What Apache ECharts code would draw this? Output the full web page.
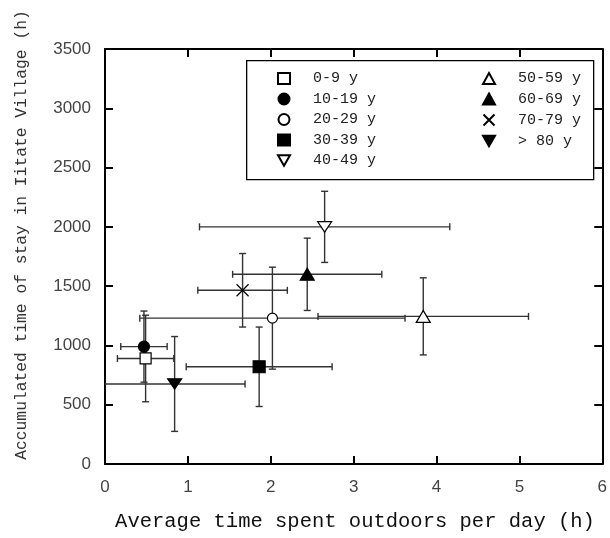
<!DOCTYPE html>
<html>
<head>
<meta charset="utf-8">
<script src="https://cdn.jsdelivr.net/npm/echarts@6/dist/echarts.min.js"></script>
<style>
  html, body { margin: 0; padding: 0; background: #fff; }
  #chart { width: 610px; height: 538px; }
</style>
</head>
<body>
<div id="chart"></div>
<script>
// Age groups and their mean values with standard deviations
const groups = ['0-9 y', '10-19 y', '20-29 y', '30-39 y', '40-49 y', '50-59 y', '60-69 y', '70-79 y', '> 80 y'];
const outdoorHours = [0.49, 0.47, 2.02, 1.86, 2.65, 3.84, 2.44, 1.66, 0.84];
const outdoorSd = [0.34, 0.28, 1.60, 0.88, 1.51, 1.27, 0.90, 0.54, 0.85];
const stayHours = [890, 990, 1230, 820, 2000, 1245, 1600, 1465, 675];
const staySd = [365, 300, 430, 335, 300, 325, 305, 310, 400];
const xTicks = [0, 1, 2, 3, 4, 5, 6];
const yTicks = [0, 500, 1000, 1500, 2000, 2500, 3000, 3500];

// Marker look for each group
const DOWN = 'path://M0,0 L10,0 L5,8.66 Z';
const CROSS = 'path://M0,0 L10,10 M10,0 L0,10';
const markerStyles = [
  { symbol: 'rect', size: 11, fill: '#fff' },
  { symbol: 'circle', size: 11, fill: '#000' },
  { symbol: 'circle', size: 10, fill: '#fff' },
  { symbol: 'rect', size: 12, fill: '#000' },
  { symbol: DOWN, size: [14, 12], fill: '#fff' },
  { symbol: 'triangle', size: [14, 12], fill: '#fff' },
  { symbol: 'triangle', size: [14, 12], fill: '#000' },
  { symbol: CROSS, size: 12, fill: 'none' },
  { symbol: DOWN, size: [14, 12], fill: '#000' }
];

const barData = groups.map((g, i) => [outdoorHours[i], stayHours[i], outdoorSd[i], staySd[i]]);

const CAP = 3.5;
function renderErrorBars(params, api) {
  const x = api.value(0), y = api.value(1), xe = api.value(2), ye = api.value(3);
  const left = api.coord([x - xe, y]);
  const right = api.coord([x + xe, y]);
  const top = api.coord([x, y + ye]);
  const bottom = api.coord([x, y - ye]);
  const style = { stroke: '#333', lineWidth: 1.4 };
  const line = (x1, y1, x2, y2) => ({ type: 'line', shape: { x1, y1, x2, y2 }, style });
  return {
    type: 'group',
    children: [
      line(left[0], left[1], right[0], right[1]),
      line(left[0], left[1] - CAP, left[0], left[1] + CAP),
      line(right[0], right[1] - CAP, right[0], right[1] + CAP),
      line(top[0], top[1], bottom[0], bottom[1]),
      line(top[0] - CAP, top[1], top[0] + CAP, top[1]),
      line(bottom[0] - CAP, bottom[1], bottom[0] + CAP, bottom[1])
    ]
  };
}

const scatterSeries = groups.map((g, i) => ({
  name: g,
  type: 'scatter',
  xAxisIndex: 0,
  yAxisIndex: 0,
  data: [[outdoorHours[i], stayHours[i]]],
  symbol: markerStyles[i].symbol,
  symbolSize: markerStyles[i].size,
  symbolKeepAspect: true,
  itemStyle: { color: markerStyles[i].fill, borderColor: '#000', borderWidth: 1.2, opacity: 1 },
  emphasis: { disabled: true },
  z: 5
}));

const axisLine = { show: true, onZero: false, lineStyle: { color: '#000', width: 2 } };
const axisTick = { show: true, inside: true, length: 8, lineStyle: { color: '#000', width: 2 } };
const tickFont = { color: '#444', fontFamily: 'Liberation Sans', fontSize: 17 };
const legendText = { color: '#222', fontFamily: 'Liberation Mono', fontSize: 15, lineHeight: 15 };
const legendLabel = name => '  ' + name;

const chart = echarts.init(document.getElementById('chart'), null, { renderer: 'canvas' });
chart.setOption({
  animation: false,
  backgroundColor: '#fff',
  grid: { left: 105, right: 2, top: 49, bottom: 74, containLabel: false },
  xAxis: [
    {
      type: 'value', min: xTicks[0], max: xTicks[xTicks.length - 1], interval: 1,
      axisLine, axisTick, splitLine: { show: false },
      axisLabel: Object.assign({ margin: 15, formatter: v => String(v) }, tickFont)
    },
    {
      type: 'value', position: 'top', min: xTicks[0], max: xTicks[xTicks.length - 1], interval: 1,
      axisLine, axisTick, splitLine: { show: false }, axisLabel: { show: false }
    }
  ],
  yAxis: [
    {
      type: 'value', min: yTicks[0], max: yTicks[yTicks.length - 1], interval: 500,
      axisLine, axisTick, splitLine: { show: false },
      axisLabel: Object.assign({ margin: 14, formatter: v => String(v) }, tickFont)
    },
    {
      type: 'value', position: 'right', min: yTicks[0], max: yTicks[yTicks.length - 1], interval: 500,
      axisLine, axisTick, splitLine: { show: false }, axisLabel: { show: false }
    }
  ],
  legend: [
    {
      data: groups.slice(0, 5), orient: 'vertical', left: 277, top: 71,
      itemWidth: 12, itemHeight: 11, itemGap: 5.5, textStyle: legendText,
      formatter: legendLabel, selectedMode: false, padding: 0
    },
    {
      data: groups.slice(5), orient: 'vertical', left: 481, top: 71,
      itemWidth: 12, itemHeight: 11, itemGap: 5.5, textStyle: legendText,
      formatter: legendLabel, selectedMode: false, padding: 0
    }
  ],
  graphic: [
    {
      type: 'rect', left: 246, top: 60, z: 1,
      shape: { width: 347, height: 119 },
      style: { fill: '#fff', stroke: '#000', lineWidth: 1.3 }
    },
    {
      type: 'text', x: 22, y: 235, rotation: Math.PI / 2,
      style: {
        text: 'Accumulated time of stay in Iitate Village (h)',
        fontFamily: 'Liberation Mono', fontSize: 16.3, fill: '#333',
        align: 'center', verticalAlign: 'middle'
      }
    },
    {
      type: 'text', x: 355, y: 522,
      style: {
        text: 'Average time spent outdoors per day (h)',
        fontFamily: 'Liberation Mono', fontSize: 20.5, fill: '#111',
        align: 'center', verticalAlign: 'middle'
      }
    }
  ],
  series: [
    {
      type: 'custom',
      name: 'error',
      xAxisIndex: 0,
      yAxisIndex: 0,
      clip: true,
      data: barData,
      renderItem: renderErrorBars,
      z: 3,
      silent: true
    }
  ].concat(scatterSeries)
});
</script>
</body>
</html>
